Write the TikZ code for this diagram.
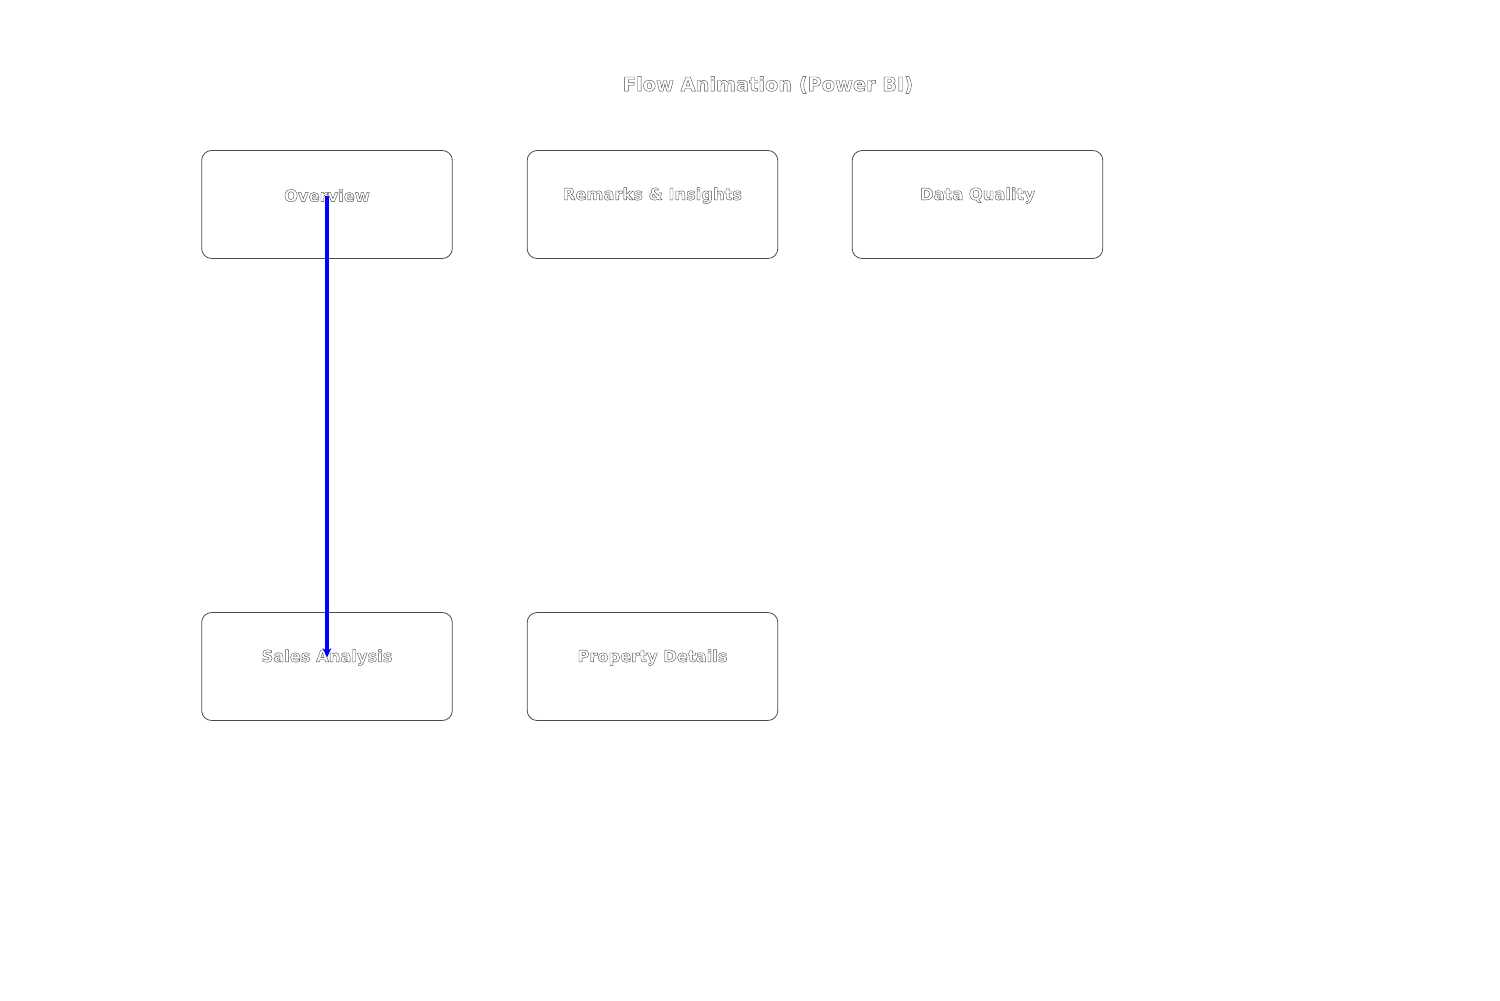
\documentclass[tikz,border=0pt]{standalone}
\usepackage{fontspec}
\setmainfont{DejaVu Sans}
\usetikzlibrary{arrows.meta}
\newcommand\outlinedtext[1]{\special{pdf:literal direct 2 Tr 0.3 w 0.3 G}#1\special{pdf:literal direct 0 Tr}}
\tikzset{
  card/.style={draw=black!70, line width=0.6pt, rounded corners=7.5pt, minimum width=188pt, minimum height=81pt, inner sep=0pt},
  cardlabel/.style={text=white, font=\bfseries\fontsize{12.2pt}{14pt}\selectfont, inner sep=0pt},
  titlelabel/.style={text=white, font=\bfseries\fontsize{14.5pt}{17pt}\selectfont, inner sep=0pt},
  flow/.style={draw={rgb,255:red,0;green,0;blue,255}, line width=2.6pt, -{Stealth[length=7pt,width=6.5pt]}}
}
\begin{document}
\begin{tikzpicture}[x=0.75pt,y=-0.75pt]
\useasboundingbox (0,0) rectangle (1500,1000);
\fill[white] (0,0) rectangle (1500,1000);
\node[titlelabel] (title) at (768,85) {\outlinedtext{Flow Animation (Power BI)}};
\node[card] (ov) at (327,204.5) {};
\node[card] (ri) at (652.5,204.5) {};
\node[card] (dq) at (977.5,204.5) {};
\node[card] (sa) at (327,666.5) {};
\node[card] (pd) at (652.5,666.5) {};
\node[cardlabel] (ovl) at (327,195.5) {\outlinedtext{Overview}};
\node[cardlabel] (ril) at (652.5,195.5) {\outlinedtext{Remarks \& Insights}};
\node[cardlabel] (dql) at (977.5,195.5) {\outlinedtext{Data Quality}};
\node[cardlabel] (sal) at (327,657.5) {\outlinedtext{Sales Analysis}};
\node[cardlabel] (pdl) at (652.5,657.5) {\outlinedtext{Property Details}};
\draw[flow] (ovl.center) -- (sal.center);
\end{tikzpicture}
\end{document}
